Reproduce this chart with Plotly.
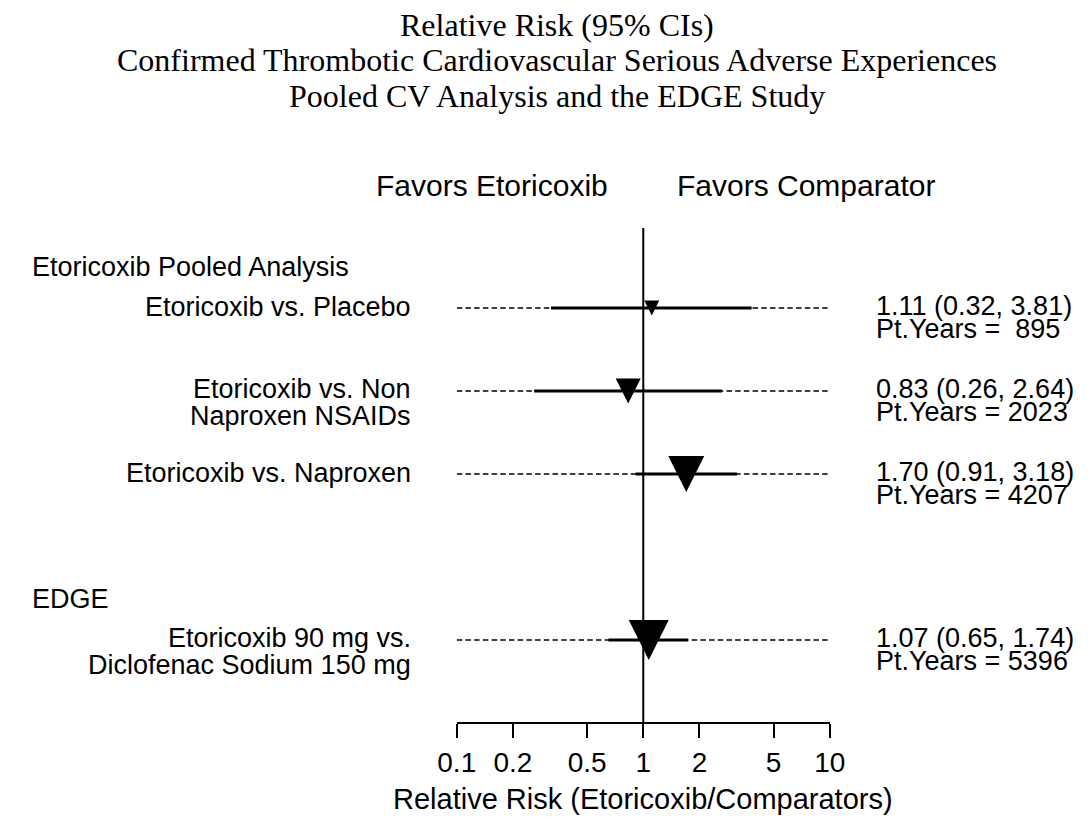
import plotly.graph_objects as go

# ---- data -------------------------------------------------------------
group_names = ["Etoricoxib Pooled Analysis", "EDGE"]
group_rows = [-0.5, 3.5]

comparison_lines = [
    ["Etoricoxib vs. Placebo"],
    ["Etoricoxib vs. Non", "Naproxen NSAIDs"],
    ["Etoricoxib vs. Naproxen"],
    ["Etoricoxib 90 mg vs.", "Diclofenac Sodium 150 mg"],
]
comparison_rows = [0, 1, 2, 4]
relative_risk = [1.11, 0.83, 1.70, 1.07]
ci_lower = [0.32, 0.26, 0.91, 0.65]
ci_upper = [3.81, 2.64, 3.18, 1.74]
patient_years = [895, 2023, 4207, 5396]

tick_values = [0.1, 0.2, 0.5, 1, 2, 5, 10]
tick_labels = ["0.1", "0.2", "0.5", "1", "2", "5", "10"]
axis_min, axis_max = 0.1, 10

# ---- style ------------------------------------------------------------
W, H = 1089, 820
marker_px = [15, 25, 36, 40]          # triangle width/height in pixels
ROW_PX = 83.0                         # pixel distance between rows
ROW0_PX = 308.0                       # pixel y of the first row
SANS = "Liberation Sans, Arial, sans-serif"
SERIF = "Liberation Serif, Times New Roman, serif"
LABEL_SIZE = 27


def py(p):
    """pixel y (from top) -> paper y"""
    return 1 - p / H


def px(p):
    return p / W


y_top = -ROW0_PX / ROW_PX
y_bottom = y_top + H / ROW_PX
axis_row = 5.0

fig = go.Figure()

# dashed reference line across the whole axis for each comparison
for r in comparison_rows:
    fig.add_trace(go.Scatter(
        x=[axis_min, axis_max], y=[r, r], mode="lines",
        line=dict(color="black", width=1.3, dash="5.5px,3.2px"),
        hoverinfo="skip", showlegend=False))

# confidence interval bars
for r, lo, hi in zip(comparison_rows, ci_lower, ci_upper):
    fig.add_trace(go.Scatter(
        x=[lo, hi], y=[r, r], mode="lines",
        line=dict(color="black", width=3),
        hoverinfo="skip", showlegend=False))

# line of no effect
fig.add_trace(go.Scatter(
    x=[1, 1], y=[(228 - ROW0_PX) / ROW_PX, axis_row], mode="lines",
    line=dict(color="black", width=2), hoverinfo="skip", showlegend=False))

shapes = []
# point estimates: downward triangles anchored at the relative risk
for r, rr, s in zip(comparison_rows, relative_risk, marker_px):
    h = s / 2
    shapes.append(dict(
        type="path", xref="x", yref="y",
        xsizemode="pixel", ysizemode="pixel",
        xanchor=rr, yanchor=r,
        path=f"M{-h},{h} L{h},{h} L0,{-h} Z",
        fillcolor="black", line=dict(color="black", width=0)))

annotations = []

# title
title_lines = [
    "Relative Risk (95% CIs)",
    "Confirmed Thrombotic Cardiovascular Serious Adverse Experiences",
    "Pooled CV Analysis and the EDGE Study",
]
for i, t in enumerate(title_lines):
    annotations.append(dict(
        text=t, xref="paper", yref="paper", x=px(556), y=py(25 + 35.5 * i),
        xanchor="center", yanchor="middle", showarrow=False,
        font=dict(family=SERIF, size=32, color="black")))

# direction labels
annotations.append(dict(
    text="Favors Etoricoxib", xref="paper", yref="paper", x=px(611), y=py(186),
    xanchor="right", yanchor="middle", showarrow=False,
    font=dict(family=SANS, size=30, color="black")))
annotations.append(dict(
    text="Favors Comparator", xref="paper", yref="paper", x=px(678), y=py(186),
    xanchor="left", yanchor="middle", showarrow=False,
    font=dict(family=SANS, size=30, color="black")))

# group headers
for name, r in zip(group_names, group_rows):
    annotations.append(dict(
        text=name, xref="paper", yref="y", x=px(11), y=r,
        xanchor="left", yanchor="middle", showarrow=False,
        font=dict(family=SANS, size=LABEL_SIZE, color="black")))

# comparison labels (right aligned) and result text
for lines, r, rr, lo, hi, pyr in zip(comparison_lines, comparison_rows,
                                      relative_risk, ci_lower, ci_upper,
                                      patient_years):
    for j, line in enumerate(lines):
        off = (-2 + 27 * j) / ROW_PX if len(lines) > 1 else -1 / ROW_PX
        annotations.append(dict(
            text=line, xref="paper", yref="y", x=px(407), y=r + off,
            xanchor="right", yanchor="middle", showarrow=False,
            font=dict(family=SANS, size=LABEL_SIZE, color="black")))
    result = [f"{rr:.2f} ({lo:.2f}, {hi:.2f})",
              "Pt.Years = " + f"{pyr:>4d}".replace(" ", "\u00a0")]
    for j, line in enumerate(result):
        annotations.append(dict(
            text=line, xref="paper", yref="y", x=px(883),
            y=r + (-2.5 + 23 * j) / ROW_PX,
            xanchor="left", yanchor="middle", showarrow=False,
            font=dict(family=SANS, size=LABEL_SIZE, color="black")))

# x axis title
annotations.append(dict(
    text="Relative Risk (Etoricoxib/Comparators)", xref="x domain", yref="paper",
    x=0.5, y=py(799), xanchor="center", yanchor="middle", showarrow=False,
    font=dict(family=SANS, size=29, color="black")))

fig.update_layout(
    width=W, height=H,
    margin=dict(l=0, r=0, t=0, b=0, pad=0),
    paper_bgcolor="white", plot_bgcolor="white",
    showlegend=False,
    shapes=shapes, annotations=annotations,
    xaxis=dict(
        type="log", range=[-1, 1],
        domain=[px(452.3), px(837.7)],
        anchor="free", position=py(ROW0_PX + axis_row * ROW_PX),
        showline=True, linecolor="black", linewidth=2,
        ticks="outside", ticklen=14, tickwidth=2, tickcolor="black",
        tickvals=tick_values, ticktext=tick_labels,
        tickfont=dict(family=SANS, size=28, color="black"),
        showgrid=False, zeroline=False, fixedrange=True),
    yaxis=dict(
        range=[y_bottom, y_top], domain=[0, 1], visible=False,
        showgrid=False, zeroline=False, fixedrange=True),
)

fig.write_html("out.html")
